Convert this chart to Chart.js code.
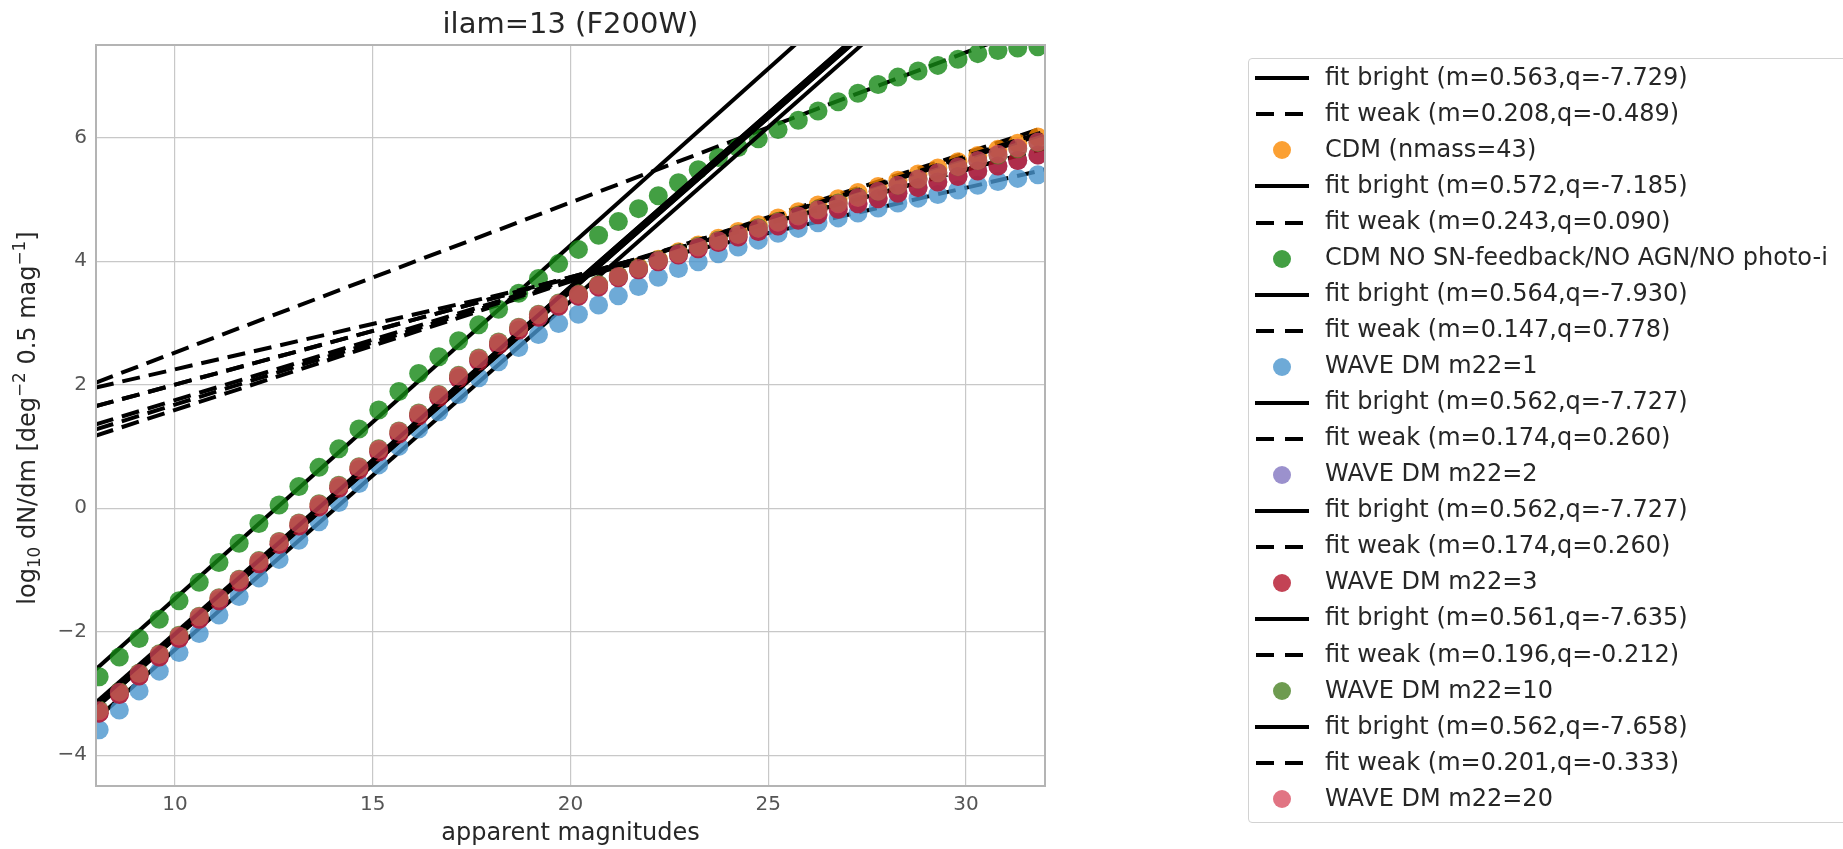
<!DOCTYPE html>
<html>
<head>
<meta charset="utf-8">
<title>ilam=13 (F200W)</title>
<script src="https://cdn.jsdelivr.net/npm/chart.js@4.4.1/dist/chart.umd.min.js"></script>
<style>
  html, body { margin: 0; padding: 0; background: #fff; width: 1843px; height: 849px; overflow: hidden; }
  body { position: relative; font-family: "DejaVu Sans", sans-serif; color: #262626; }
  #plot { position: absolute; left: 0; top: 0; }
  .txt { position: absolute; white-space: nowrap; }
  #title { left: 0; width: 1141px; top: 8.5px; font-size: 29px; line-height: 29px; text-align: center; }
  #xlabel { left: 0; width: 1141px; top: 819.7px; font-size: 24px; line-height: 24px; text-align: center; }
  #ylabel { left: -273.1px; top: 406px; width: 600px; height: 24px; font-size: 24px; line-height: 24px;
            text-align: center; transform: rotate(-90deg); transform-origin: 50% 50%; }
  .sub { font-size: 70%; vertical-align: -0.3em; line-height: 0; }
  .sup { font-size: 70%; vertical-align: 0.6em; line-height: 0; }
  #legendBox { position: absolute; left: 1248px; top: 58px; width: 640px; height: 763px;
               border: 1px solid #d2d2d2; border-radius: 4px; background: #fff; }
  .lg-text { position: absolute; left: 1325px; font-size: 24px; line-height: 36px; height: 36px; white-space: nowrap; color: #262626; }
  .lg-bar { position: absolute; height: 4px; background: #000; }
  .lg-dot { position: absolute; width: 18px; height: 18px; border-radius: 50%; }
</style>
</head>
<body>
<canvas id="plot" width="1843" height="849"></canvas>
<div id="title" class="txt">ilam=13 (F200W)</div>
<div id="xlabel" class="txt">apparent magnitudes</div>
<div id="ylabel" class="txt">log<span class="sub">10</span> dN/dm [deg<span class="sup">−2</span> 0.5 mag<span class="sup">−1</span>]</div>
<div id="legendBox"></div>
<script>
// Magnitude bins (0.5 mag wide)
const magnitudes = [8.08, 8.59, 9.09, 9.60, 10.10, 10.61, 11.11, 11.62, 12.12, 12.63, 13.13, 13.64,
  14.14, 14.65, 15.15, 15.66, 16.16, 16.67, 17.17, 17.68, 18.18, 18.69, 19.19, 19.70, 20.20, 20.71,
  21.21, 21.72, 22.22, 22.73, 23.23, 23.74, 24.24, 24.75, 25.25, 25.76, 26.26, 26.77, 27.27, 27.78,
  28.28, 28.79, 29.29, 29.80, 30.30, 30.81, 31.31, 31.82];

// log10 dN/dm for each model
const cdm = [-3.31, -3.01, -2.71, -2.40, -2.10, -1.79, -1.49, -1.19, -0.89, -0.58,
  -0.28, 0.03, 0.33, 0.63, 0.92, 1.21, 1.50, 1.80, 2.11, 2.39,
  2.65, 2.89, 3.10, 3.28, 3.45, 3.61, 3.76, 3.90, 4.03, 4.15,
  4.26, 4.37, 4.48, 4.59, 4.70, 4.80, 4.91, 5.01, 5.11, 5.21,
  5.31, 5.41, 5.51, 5.61, 5.71, 5.81, 5.91, 6.01];
const cdmNoFeedback = [-2.73, -2.41, -2.11, -1.80, -1.50, -1.20, -0.88, -0.57, -0.25, 0.05,
  0.35, 0.66, 0.96, 1.28, 1.59, 1.89, 2.18, 2.45, 2.71, 2.97,
  3.22, 3.48, 3.72, 3.96, 4.19, 4.42, 4.64, 4.85, 5.06, 5.27,
  5.48, 5.68, 5.84, 5.98, 6.13, 6.28, 6.43, 6.58, 6.72, 6.86,
  6.98, 7.08, 7.17, 7.27, 7.36, 7.41, 7.45, 7.47];
const waveM1 = [-3.59, -3.27, -2.96, -2.64, -2.34, -2.03, -1.73, -1.43, -1.13, -0.83,
  -0.52, -0.22, 0.09, 0.40, 0.70, 1.00, 1.28, 1.56, 1.84, 2.11,
  2.37, 2.60, 2.81, 2.99, 3.14, 3.29, 3.44, 3.59, 3.74, 3.88,
  3.99, 4.12, 4.23, 4.34, 4.45, 4.53, 4.62, 4.70, 4.78, 4.86,
  4.94, 5.02, 5.08, 5.15, 5.23, 5.29, 5.34, 5.40];
const waveM2 = [-3.32, -3.02, -2.72, -2.41, -2.11, -1.80, -1.50, -1.20, -0.90, -0.59,
  -0.29, 0.02, 0.32, 0.62, 0.91, 1.20, 1.49, 1.79, 2.10, 2.38,
  2.64, 2.88, 3.09, 3.27, 3.43, 3.58, 3.73, 3.86, 3.99, 4.10,
  4.20, 4.30, 4.39, 4.48, 4.57, 4.66, 4.75, 4.84, 4.93, 5.01,
  5.10, 5.19, 5.28, 5.37, 5.46, 5.54, 5.63, 5.72];
const waveM3 = [-3.32, -3.02, -2.72, -2.41, -2.11, -1.80, -1.50, -1.20, -0.90, -0.59,
  -0.29, 0.02, 0.32, 0.62, 0.91, 1.20, 1.49, 1.79, 2.10, 2.38,
  2.64, 2.88, 3.09, 3.27, 3.43, 3.58, 3.73, 3.86, 3.99, 4.10,
  4.20, 4.30, 4.39, 4.48, 4.57, 4.66, 4.75, 4.84, 4.93, 5.01,
  5.10, 5.19, 5.28, 5.37, 5.46, 5.54, 5.63, 5.72];
const waveM10 = [-3.27, -2.97, -2.67, -2.36, -2.06, -1.75, -1.45, -1.15, -0.85, -0.54,
  -0.24, 0.07, 0.37, 0.67, 0.96, 1.25, 1.54, 1.84, 2.15, 2.43,
  2.69, 2.93, 3.14, 3.32, 3.47, 3.62, 3.76, 3.89, 4.02, 4.13,
  4.24, 4.34, 4.44, 4.54, 4.64, 4.74, 4.84, 4.94, 5.04, 5.13,
  5.23, 5.33, 5.43, 5.53, 5.63, 5.72, 5.82, 5.92];
const waveM20 = [-3.28, -2.98, -2.68, -2.37, -2.07, -1.76, -1.46, -1.16, -0.86, -0.55,
  -0.25, 0.06, 0.36, 0.66, 0.95, 1.24, 1.53, 1.83, 2.14, 2.42,
  2.68, 2.92, 3.13, 3.31, 3.46, 3.61, 3.75, 3.88, 4.01, 4.12,
  4.23, 4.33, 4.43, 4.53, 4.63, 4.73, 4.83, 4.93, 5.03, 5.13,
  5.23, 5.33, 5.43, 5.53, 5.63, 5.73, 5.83, 5.93];

const seriesNames = ['CDM (nmass=43)', 'CDM NO SN-feedback/NO AGN/NO photo-i', 'WAVE DM m22=1',
  'WAVE DM m22=2', 'WAVE DM m22=3', 'WAVE DM m22=10', 'WAVE DM m22=20'];
const seriesValues = [cdm, cdmNoFeedback, waveM1, waveM2, waveM3, waveM10, waveM20];

// Linear fits y = m*x + q of the bright and weak ends
const brightSlope = [0.563, 0.572, 0.564, 0.562, 0.562, 0.561, 0.562];
const brightIntercept = [-7.729, -7.185, -7.930, -7.727, -7.727, -7.635, -7.658];
const weakSlope = [0.208, 0.243, 0.147, 0.174, 0.174, 0.196, 0.201];
const weakIntercept = [-0.489, 0.090, 0.778, 0.260, 0.260, -0.212, -0.333];

// Axes
const xRange = [8, 32];
const yRange = [-4.5, 7.5];
const xTicks = [10, 15, 20, 25, 30];
const yTicks = [-4, -2, 0, 2, 4, 6];

const markerColors = ['rgba(250,136,0,0.8)', 'rgba(20,135,20,0.8)', 'rgba(74,149,205,0.8)',
  'rgba(130,118,193,0.8)', 'rgba(180,20,43,0.8)', 'rgba(74,130,36,0.8)', 'rgba(215,70,90,0.75)'];

const fmt3 = v => v.toFixed(3);
const minusSign = v => String(v).replace('-', '\u2212');

// Build datasets in drawing order: bright fit, weak fit, points for each model
const datasets = [];
const legendEntries = [];
seriesNames.forEach((name, i) => {
  const bLabel = `fit bright (m=${fmt3(brightSlope[i])},q=${fmt3(brightIntercept[i])})`;
  const wLabel = `fit weak (m=${fmt3(weakSlope[i])},q=${fmt3(weakIntercept[i])})`;
  datasets.push({
    label: bLabel,
    data: xRange.map(x => ({ x, y: brightSlope[i] * x + brightIntercept[i] })),
    showLine: true, borderColor: '#000', borderWidth: 4, pointRadius: 0, clip: 0
  });
  datasets.push({
    label: wLabel,
    data: xRange.map(x => ({ x, y: weakSlope[i] * x + weakIntercept[i] })),
    showLine: true, borderColor: '#000', borderWidth: 4, borderDash: [18, 9], pointRadius: 0, clip: 0
  });
  datasets.push({
    label: name,
    data: magnitudes.map((m, k) => ({ x: m, y: seriesValues[i][k] })),
    showLine: false, pointRadius: 9.5, pointHoverRadius: 9.5, pointBorderWidth: 0,
    backgroundColor: markerColors[i], borderColor: 'rgba(0,0,0,0)', clip: 0
  });
  legendEntries.push({ kind: 'solid', label: bLabel });
  legendEntries.push({ kind: 'dashed', label: wLabel });
  legendEntries.push({ kind: 'dot', label: name, color: markerColors[i] });
});
// later datasets are painted over earlier ones
datasets.forEach((d, i) => { d.order = -i; });

// Axes frame drawn over the data
const framePlugin = {
  id: 'frame',
  afterDatasetsDraw(chart) {
    const { ctx, chartArea: a } = chart;
    ctx.save();
    ctx.strokeStyle = '#b4b4b4';
    ctx.lineWidth = 2;
    ctx.strokeRect(a.left, a.top, a.right - a.left, a.bottom - a.top);
    ctx.restore();
  }
};

Chart.defaults.font.family = '"DejaVu Sans", sans-serif';

new Chart(document.getElementById('plot'), {
  type: 'scatter',
  data: { datasets },
  options: {
    responsive: false,
    animation: false,
    devicePixelRatio: 1,
    events: [],
    layout: { padding: { left: 0, top: 45, right: 798, bottom: 0 } },
    plugins: { legend: { display: false }, tooltip: { enabled: false }, title: { display: false } },
    scales: {
      x: {
        type: 'linear', min: xRange[0], max: xRange[1],
        afterBuildTicks: s => { s.ticks = xTicks.map(v => ({ value: v })); },
        afterFit: s => { s.height = 63; },
        grid: { color: '#c8c8c8', lineWidth: 1.2, drawTicks: false },
        border: { display: false },
        ticks: { padding: 7, color: '#555', font: { size: 20 }, maxRotation: 0, callback: v => minusSign(v) }
      },
      y: {
        type: 'linear', min: yRange[0], max: yRange[1],
        afterBuildTicks: s => { s.ticks = yTicks.map(v => ({ value: v })); },
        afterFit: s => { s.width = 96; },
        grid: { color: '#c8c8c8', lineWidth: 1.2, drawTicks: false },
        border: { display: false },
        ticks: { padding: 9, color: '#555', font: { size: 20 }, callback: v => minusSign(v) }
      }
    }
  },
  plugins: [framePlugin]
});

// Legend
const legendFirstCenter = 78.3;
const legendRowStep = 36.05;
legendEntries.forEach((e, i) => {
  const cy = legendFirstCenter + legendRowStep * i;
  if (e.kind === 'solid') {
    const bar = document.createElement('div');
    bar.className = 'lg-bar';
    bar.style.left = '1255px'; bar.style.width = '54px'; bar.style.top = (cy - 2) + 'px';
    document.body.appendChild(bar);
  } else if (e.kind === 'dashed') {
    [1256, 1285].forEach(x0 => {
      const bar = document.createElement('div');
      bar.className = 'lg-bar';
      bar.style.left = x0 + 'px'; bar.style.width = '18px'; bar.style.top = (cy - 2) + 'px';
      document.body.appendChild(bar);
    });
  } else {
    const dot = document.createElement('div');
    dot.className = 'lg-dot';
    dot.style.left = '1273px'; dot.style.top = (cy - 9) + 'px';
    dot.style.background = e.color;
    document.body.appendChild(dot);
  }
  const t = document.createElement('div');
  t.className = 'lg-text';
  t.style.top = (cy - 19.6) + 'px';
  t.textContent = e.label;
  document.body.appendChild(t);
});
</script>
</body>
</html>
